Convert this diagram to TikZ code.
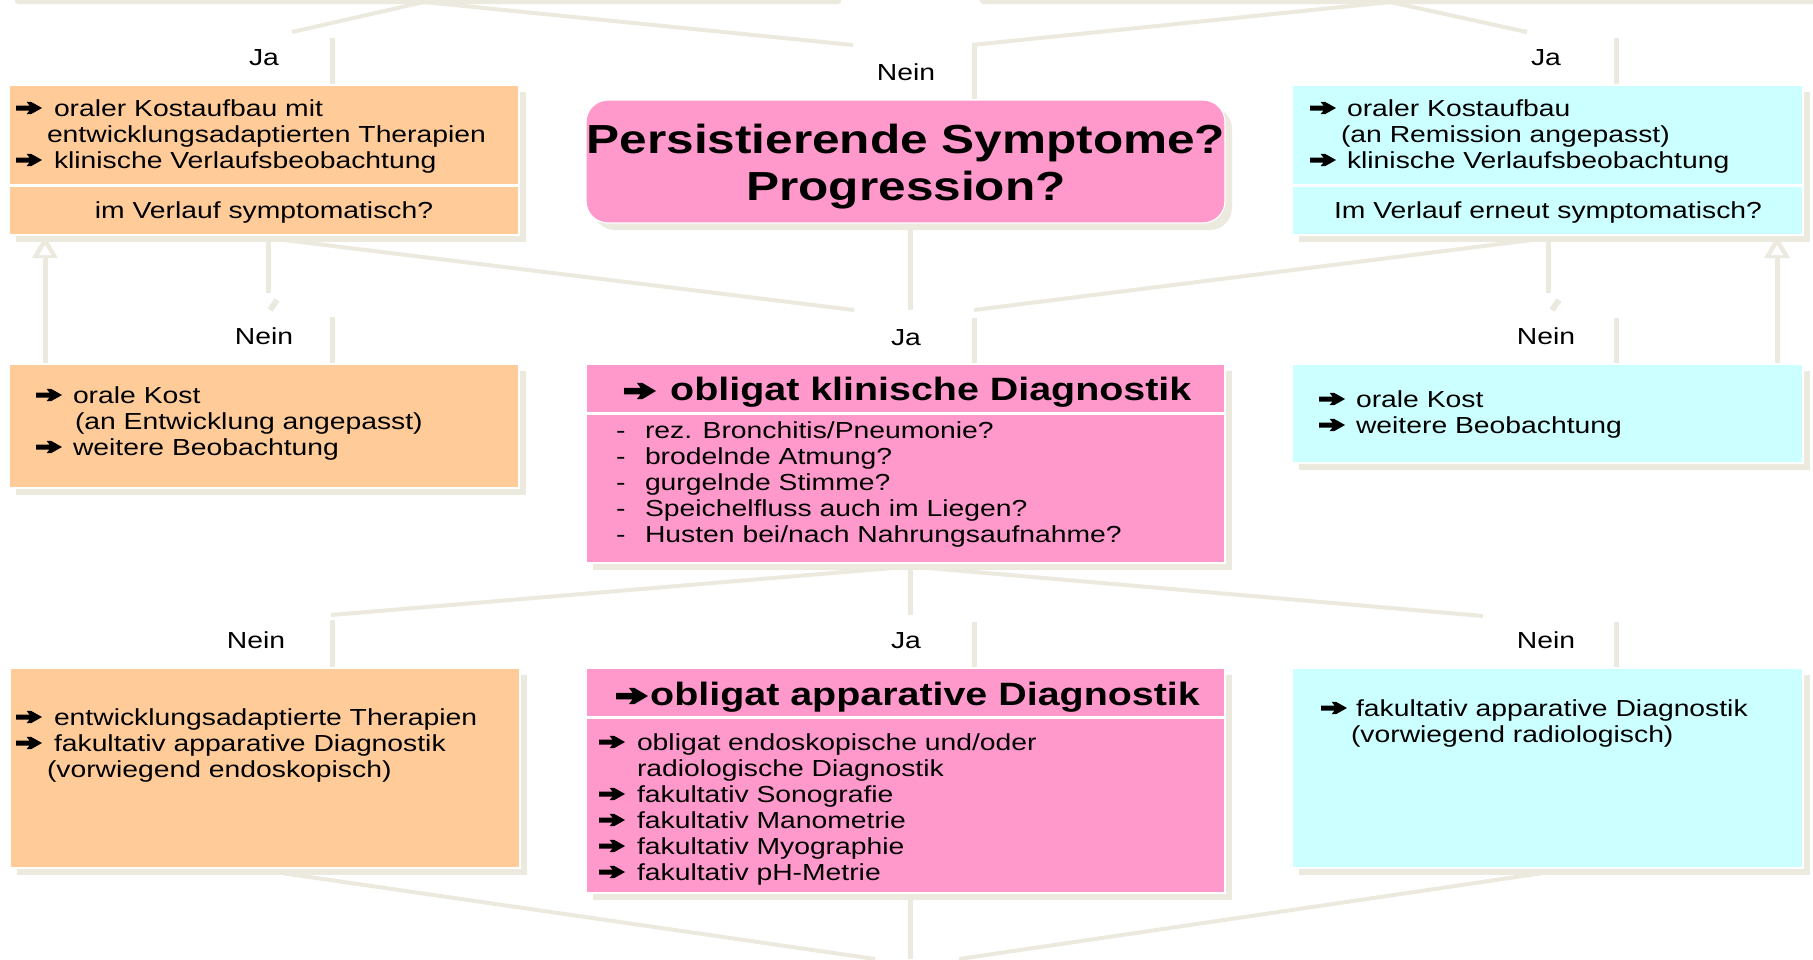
\documentclass[tikz,border=0pt]{standalone}
\usepackage{fontspec}
\setmainfont{Liberation Sans}[FakeStretch=1.22]
\usetikzlibrary{shadows,calc}
\definecolor{peach}{RGB}{255,204,153}
\definecolor{rose}{RGB}{255,153,204}
\definecolor{icecyan}{RGB}{204,255,255}
\definecolor{beigeshade}{RGB}{236,234,223}
\newcommand{\fnrm}{\fontsize{23.2pt}{26pt}\selectfont}
\newcommand{\fhd}{\fontsize{32.3pt}{36pt}\selectfont\bfseries}
\newcommand{\fttl}{\fontsize{40.6pt}{47pt}\selectfont\bfseries}
\tikzset{
  boxbase/.style={inner sep=0pt, outer sep=0pt, anchor=north west, draw=white, line width=1.2pt,
    drop shadow={shadow xshift=7pt, shadow yshift=-7pt, fill=beigeshade, opacity=1}},
  peachbox/.style={boxbase, fill=peach},
  rosebox/.style={boxbase, fill=rose},
  cyanbox/.style={boxbase, fill=icecyan},
  txt/.style={font=\fnrm, inner sep=0pt, outer sep=0pt, anchor=base west},
  ctxt/.style={font=\fnrm, inner sep=0pt, outer sep=0pt, anchor=base},
  conn/.style={draw=beigeshade, line width=5pt},
  diag/.style={draw=beigeshade, line width=4pt},
  sepline/.style={draw=white, line width=3pt},
  warrow/.pic={\fill[black] (0,2.5) -- (13.5,2.5) -- (10.5,6.2) -- (15,6.2) -- (26,0) -- (15,-6.2) -- (10.5,-6.2) -- (13.5,-2.5) -- (0,-2.5) -- cycle;},
}
\begin{document}
\begin{tikzpicture}[x=1pt,y=-1pt]
\useasboundingbox (0,0) rectangle (1813,959);
\fill[white] (0,0) rectangle (1813,959);

% ---------- connector coordinates ----------
\coordinate (tA) at (424,2);   \coordinate (tL) at (292,32);  \coordinate (tC1) at (853,45);
\coordinate (tB) at (1390,2);  \coordinate (tR) at (1527,32); \coordinate (tC2) at (972,45);

\coordinate (v1a) at (332,38);  \coordinate (v1b) at (332,84);
\coordinate (v2a) at (974,47);  \coordinate (v2b) at (974,99);
\coordinate (v3a) at (1616,38); \coordinate (v3b) at (1616,84);

\coordinate (m1L) at (268,238); \coordinate (m1Ld) at (268,293); \coordinate (m1C) at (854,310);
\coordinate (m1M) at (910,230); \coordinate (m1Md) at (910,310);
\coordinate (m1R) at (1548,238); \coordinate (m1Rd) at (1548,293); \coordinate (m1C2) at (974,310);
\coordinate (s1a) at (270,310); \coordinate (s1b) at (277,300);
\coordinate (s2a) at (1552,310); \coordinate (s2b) at (1559,300);

\coordinate (w1a) at (332,317);  \coordinate (w1b) at (332,363);
\coordinate (w2a) at (974,318);  \coordinate (w2b) at (974,363);
\coordinate (w3a) at (1616,318); \coordinate (w3b) at (1616,363);

\coordinate (upLa) at (45,363);  \coordinate (upLb) at (45,254);
\coordinate (upRa) at (1777,363); \coordinate (upRb) at (1777,254);

\coordinate (m2M) at (910,567); \coordinate (m2Md) at (910,615);
\coordinate (m2Ls) at (904,567); \coordinate (m2L) at (331,615);
\coordinate (m2Rs) at (917,567); \coordinate (m2R) at (1483,616);

\coordinate (x1a) at (332,620);  \coordinate (x1b) at (332,667);
\coordinate (x2a) at (974,622);  \coordinate (x2b) at (974,667);
\coordinate (x3a) at (1616,622); \coordinate (x3b) at (1616,667);

\coordinate (bL) at (268,871); \coordinate (bLe) at (875,959);
\coordinate (bR) at (1550,872); \coordinate (bRe) at (959,959);
\coordinate (bM) at (910,897); \coordinate (bMe) at (910,959);

% ---------- connectors (beige) ----------
\fill[beigeshade, rounded corners=3pt] (15,-4) rectangle (841,4);
\fill[beigeshade, rounded corners=3pt] (980,-4) rectangle (1820,4);
\draw[diag] (tL) -- (tA) -- (tC1);
\draw[diag] (tC2) -- (tB) -- (tR);
\draw[conn] (v1a) -- (v1b);
\draw[conn] (v2a) -- (v2b);
\draw[conn] (v3a) -- (v3b);

\draw[diag] (m1L) -- (m1C);
\draw[conn] (m1L) -- (m1Ld);
\draw[conn] (m1M) -- (m1Md);
\draw[diag] (m1R) -- (m1C2);
\draw[conn] (m1R) -- (m1Rd);
\draw[beigeshade, line width=6pt] (s1a) -- (s1b);
\draw[beigeshade, line width=6pt] (s2a) -- (s2b);
\draw[conn] (w1a) -- (w1b);
\draw[conn] (w2a) -- (w2b);
\draw[conn] (w3a) -- (w3b);

\draw[conn] (upLa) -- (upLb);
\fill[beigeshade] (45,236) -- (58,258) -- (32,258) -- cycle;
\fill[white] (45,245) -- (51,255) -- (39,255) -- cycle;
\draw[conn] (upRa) -- (upRb);
\fill[beigeshade] (1777,236) -- (1790,258) -- (1764,258) -- cycle;
\fill[white] (1777,245) -- (1783,255) -- (1771,255) -- cycle;

\draw[conn] (m2M) -- (m2Md);
\draw[diag] (m2Ls) -- (m2L);
\draw[diag] (m2Rs) -- (m2R);
\draw[conn] (x1a) -- (x1b);
\draw[conn] (x2a) -- (x2b);
\draw[conn] (x3a) -- (x3b);

\draw[diag] (bL) -- (bLe);
\draw[diag] (bR) -- (bRe);
\draw[conn] (bM) -- (bMe);

% ---------- row 1 ----------
\node[peachbox, minimum width=510pt, minimum height=150pt] (L1) at (9,85) {};
\draw[sepline] (L1.west |- 0,185) -- (L1.east |- 0,185);
\node[rosebox, rounded corners=22pt, minimum width=639pt, minimum height=123pt] (C1) at (586,100) {};
\node[cyanbox, minimum width=511pt, minimum height=150pt] (R1) at (1292,85) {};
\draw[sepline] (R1.west |- 0,185) -- (R1.east |- 0,185);

\pic at (16,108) {warrow};
\node[txt] (L1a) at (54,116) {oraler Kostaufbau mit};
\node[txt] (L1b) at (47,142) {entwicklungsadaptierten Therapien};
\pic at (16,160) {warrow};
\node[txt] (L1c) at (54,168) {klinische Verlaufsbeobachtung};
\node[ctxt] (L1q) at (264,218) {im Verlauf symptomatisch?};

\node[inner sep=0pt, anchor=base, font=\fttl] (C1a) at (906,153) {Persistierende Symptome?};
\node[inner sep=0pt, anchor=base, font=\fttl] (C1b) at (906,200) {Progression?};

\pic at (1310,108) {warrow};
\node[txt] (R1a) at (1347,116) {oraler Kostaufbau};
\node[txt] (R1b) at (1341,142) {(an Remission angepasst)};
\pic at (1310,160) {warrow};
\node[txt] (R1c) at (1347,168) {klinische Verlaufsbeobachtung};
\node[ctxt] (R1q) at (1548,218) {Im Verlauf erneut symptomatisch?};

\node[ctxt] (lab1) at (264,65) {Ja};
\node[ctxt] (lab2) at (906,80) {Nein};
\node[ctxt] (lab3) at (1546,65) {Ja};

% ---------- row 2 ----------
\node[peachbox, minimum width=510pt, minimum height=124pt] (L2) at (9,364) {};
\node[rosebox, minimum width=639pt, minimum height=199pt] (C2) at (586,364) {};
\draw[sepline] (C2.west |- 0,413) -- (C2.east |- 0,413);
\node[cyanbox, minimum width=511pt, minimum height=99pt] (R2) at (1292,364) {};

\pic at (36,395) {warrow};
\node[txt] (L2a) at (73,403) {orale Kost};
\node[txt] (L2b) at (75,429) {(an Entwicklung angepasst)};
\pic at (36,447) {warrow};
\node[txt] (L2c) at (73,455) {weitere Beobachtung};

\pic[xscale=1.23, yscale=1.3] at (624,391) {warrow};
\node[inner sep=0pt, anchor=base west, font=\fhd] (C2h) at (670,400) {obligat klinische Diagnostik};
\foreach \t [count=\i] in {rez. Bronchitis/Pneumonie?, brodelnde Atmung?, gurgelnde Stimme?, Speichelfluss auch im Liegen?, Husten bei/nach Nahrungsaufnahme?}{
  \node[txt] (C2d\i) at (616,{412+26*\i}) {-};
  \node[txt] (C2t\i) at (645,{412+26*\i}) {\t};
}

\pic at (1319,399) {warrow};
\node[txt] (R2a) at (1356,407) {orale Kost};
\pic at (1319,425) {warrow};
\node[txt] (R2b) at (1356,433) {weitere Beobachtung};

\node[ctxt] (lab4) at (264,344) {Nein};
\node[ctxt] (lab5) at (906,345) {Ja};
\node[ctxt] (lab6) at (1546,344) {Nein};

% ---------- row 3 ----------
\node[peachbox, minimum width=510pt, minimum height=200pt] (L3) at (10,668) {};
\node[rosebox, minimum width=639pt, minimum height=225pt] (C3) at (586,668) {};
\draw[sepline] (C3.west |- 0,717) -- (C3.east |- 0,717);
\node[cyanbox, minimum width=511pt, minimum height=200pt] (R3) at (1292,668) {};

\pic at (16,717) {warrow};
\node[txt] (L3a) at (54,725) {entwicklungsadaptierte Therapien};
\pic at (16,743) {warrow};
\node[txt] (L3b) at (54,751) {fakultativ apparative Diagnostik};
\node[txt] (L3c) at (47,777) {(vorwiegend endoskopisch)};

\pic[xscale=1.23, yscale=1.3] at (616,696) {warrow};
\node[inner sep=0pt, anchor=base west, font=\fhd] (C3h) at (650,705) {obligat apparative Diagnostik};
\pic at (599,742) {warrow};
\node[txt] (C3a) at (637,750) {obligat endoskopische und/oder};
\node[txt] (C3b) at (637,776) {radiologische Diagnostik};
\foreach \t [count=\i] in {Sonografie, Manometrie, Myographie, pH-Metrie}{
  \pic at (599,{768+26*\i}) {warrow};
  \node[txt] (C3t\i) at (637,{776+26*\i}) {fakultativ \t};
}

\pic at (1321,708) {warrow};
\node[txt] (R3a) at (1356,716) {fakultativ apparative Diagnostik};
\node[txt] (R3b) at (1351,742) {(vorwiegend radiologisch)};

\node[ctxt] (lab7) at (256,648) {Nein};
\node[ctxt] (lab8) at (906,648) {Ja};
\node[ctxt] (lab9) at (1546,648) {Nein};
\end{tikzpicture}
\end{document}
